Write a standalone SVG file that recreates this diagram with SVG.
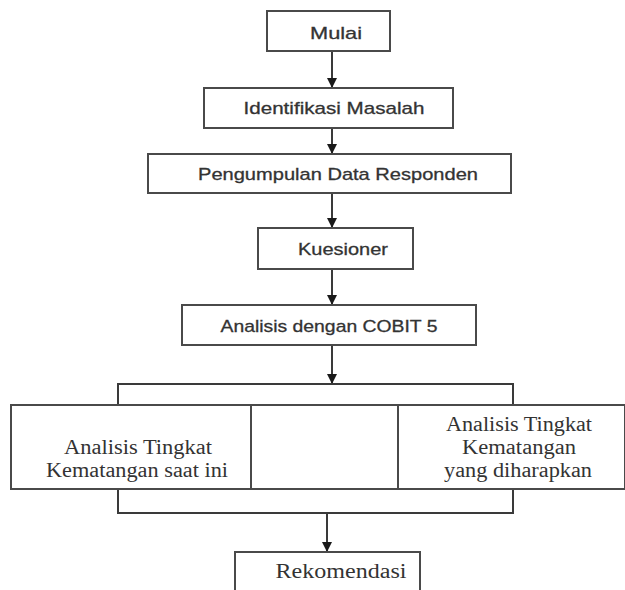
<svg xmlns="http://www.w3.org/2000/svg" width="625" height="590" viewBox="0 0 625 590">
<style>
.box{fill:#fff;stroke:#4a4a4a;stroke-width:2}
.ln{fill:none;stroke:#3a3a3a;stroke-width:2}
.s{font-family:"Liberation Sans","Open Sans",sans-serif;font-size:17px;fill:#333;stroke:#333;stroke-width:0.3;text-anchor:middle}
.t{font-family:"Liberation Serif","Times New Roman",serif;font-size:20px;fill:#333;text-anchor:middle}
</style>
<defs>
<marker id="ah" viewBox="0 0 10 10" refX="10" refY="5" markerWidth="10" markerHeight="10" markerUnits="userSpaceOnUse" orient="auto">
<path d="M0,0 L10,5 L0,10 z" fill="#1a1a1a"/>
</marker>
</defs>
<g id="connectors">
<line class="ln" x1="332" y1="51" x2="332" y2="88" marker-end="url(#ah)"/>
<line class="ln" x1="332" y1="128" x2="332" y2="154" marker-end="url(#ah)"/>
<line class="ln" x1="332" y1="193" x2="332" y2="228" marker-end="url(#ah)"/>
<line class="ln" x1="332" y1="269" x2="332" y2="305" marker-end="url(#ah)"/>
<line class="ln" x1="332" y1="345" x2="332" y2="384" marker-end="url(#ah)"/>
<polyline class="ln" points="118,405 118,384 513,384 513,405"/>
<polyline class="ln" points="118,489 118,513 513,513 513,489"/>
<line class="ln" x1="327" y1="513" x2="327" y2="552" marker-end="url(#ah)"/>
</g>
<g id="mulai">
<rect class="box" x="267" y="11" width="123" height="40"/>
<text class="s" x="336" y="39" textLength="52" lengthAdjust="spacingAndGlyphs">Mulai</text>
</g>
<g id="identifikasi">
<rect class="box" x="204" y="88" width="249" height="40"/>
<text class="s" x="334" y="114" textLength="181" lengthAdjust="spacingAndGlyphs">Identifikasi Masalah</text>
</g>
<g id="pengumpulan">
<rect class="box" x="148" y="154" width="363" height="39"/>
<text class="s" x="338" y="180" textLength="280" lengthAdjust="spacingAndGlyphs">Pengumpulan Data Responden</text>
</g>
<g id="kuesioner">
<rect class="box" x="258" y="228" width="155" height="41"/>
<text class="s" x="343" y="255" textLength="90" lengthAdjust="spacingAndGlyphs">Kuesioner</text>
</g>
<g id="cobit">
<rect class="box" x="182" y="305" width="294" height="40"/>
<text class="s" x="329" y="332" textLength="217" lengthAdjust="spacingAndGlyphs">Analisis dengan COBIT 5</text>
</g>
<g id="saat-ini">
<rect class="box" x="11" y="405" width="240" height="84"/>
<text class="t" x="138" y="454" textLength="148" lengthAdjust="spacingAndGlyphs">Analisis Tingkat</text>
<text class="t" x="137" y="477" textLength="182" lengthAdjust="spacingAndGlyphs">Kematangan saat ini</text>
</g>
<g id="tengah">
<rect class="box" x="251" y="405" width="147" height="84"/>
</g>
<g id="diharapkan">
<rect class="box" x="398" y="405" width="227" height="84"/>
<text class="t" x="519" y="431" textLength="146" lengthAdjust="spacingAndGlyphs">Analisis Tingkat</text>
<text class="t" x="519" y="454" textLength="114" lengthAdjust="spacingAndGlyphs">Kematangan</text>
<text class="t" x="518" y="477" textLength="148" lengthAdjust="spacingAndGlyphs">yang diharapkan</text>
</g>
<g id="rekomendasi">
<rect class="box" x="235" y="552" width="185" height="40"/>
<text class="t" x="341" y="578" textLength="131" lengthAdjust="spacingAndGlyphs">Rekomendasi</text>
</g>
</svg>
